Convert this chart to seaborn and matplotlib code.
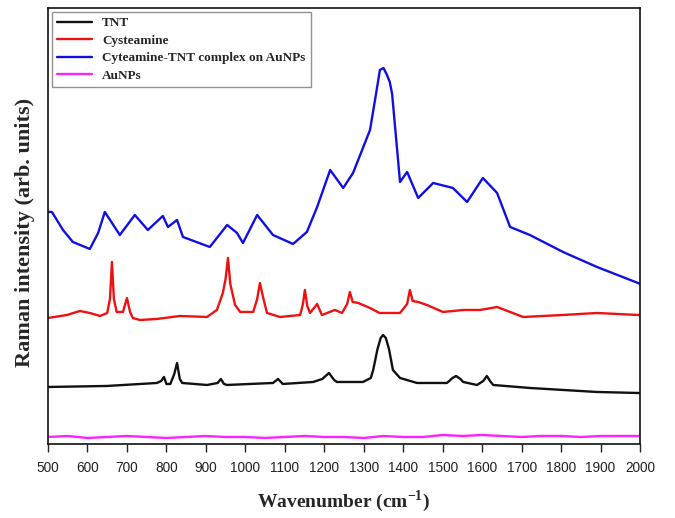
import matplotlib
matplotlib.use("Agg")
import matplotlib.pyplot as plt
import numpy as np
import pandas as pd
import seaborn as sns

# values (arbitrary intensity units)
tnt_wn = [500, 649, 776, 787, 794, 800, 810, 820, 827, 834, 840, 903, 930, 938, 946, 954,
          1070, 1083, 1095, 1172, 1195, 1212, 1225, 1232, 1248, 1298, 1318, 1324, 1335, 1343,
          1349, 1356, 1364, 1374, 1392, 1435, 1511, 1525, 1534, 1545, 1552, 1587, 1603, 1612,
          1620, 1628, 1721, 1891, 1995, 2000]
tnt_int = [57, 58, 61, 63, 67, 60, 60, 70, 81, 65, 61, 59, 61, 65, 60, 59,
           61, 65, 60, 62, 65, 71, 64, 62, 62, 62, 66, 74, 95, 106,
           109, 106, 95, 74, 66, 61, 61, 66, 68, 65, 62, 59, 63, 68,
           63, 59, 56, 52, 51, 51]

cys_wn = [500, 548, 581, 606, 632, 650, 657, 662, 667, 674, 690, 700, 708, 715, 733, 776,
          834, 903, 928, 943, 950, 956, 962, 974, 987, 1020, 1030, 1037, 1046, 1055, 1088,
          1139, 1146, 1151, 1157, 1164, 1182, 1194, 1227, 1245, 1258, 1265, 1272, 1286, 1316,
          1340, 1392, 1410, 1417, 1424, 1438, 1460, 1501, 1552, 1595, 1638, 1671, 1704, 1805,
          1891, 1995, 2000]
cys_int = [126, 129, 133, 131, 128, 131, 145, 182, 145, 132, 132, 146, 132, 126, 124, 125,
           128, 127, 134, 151, 165, 186, 160, 139, 132, 132, 145, 161, 145, 131, 127,
           129, 140, 154, 138, 131, 140, 129, 134, 131, 140, 152, 142, 141, 136,
           131, 131, 140, 154, 143, 142, 139, 132, 134, 134, 137, 132, 127, 129,
           131, 129, 129]

cpx_wn = [500, 510, 538, 563, 606, 627, 644, 682, 720, 753, 791, 804, 827, 842, 910, 954,
          979, 994, 1030, 1070, 1121, 1156, 1182, 1215, 1248, 1273, 1316, 1332, 1341, 1350,
          1359, 1366, 1372, 1392, 1410, 1438, 1476, 1526, 1562, 1602, 1638, 1671, 1721, 1805,
          1891, 1995, 2000]
cpx_int = [232, 232, 214, 202, 195, 211, 232, 209, 229, 214, 228, 217, 224, 207, 197, 219,
           211, 201, 229, 209, 200, 212, 237, 274, 256, 271, 314, 352, 374, 376,
           369, 362, 350, 262, 272, 246, 261, 256, 242, 266, 251, 217, 209, 192,
           177, 161, 160]

au_wn = [500, 550, 600, 650, 700, 750, 800, 850, 900, 950, 1000, 1050, 1100, 1150, 1200,
         1250, 1300, 1350, 1400, 1450, 1500, 1550, 1600, 1650, 1700, 1750, 1800, 1850, 1900,
         1950, 2000]
au_int = [7, 8, 6, 7, 8, 7, 6, 7, 8, 7, 7, 6, 7, 8, 7,
          7, 6, 8, 7, 7, 9, 8, 9, 8, 7, 8, 8, 7, 8,
          8, 8]

labels = ["TNT", "Cysteamine", "Cyteamine-TNT complex on AuNPs", "AuNPs"]
colors = ["#111111", "#ee1111", "#1010e0", "#ff22ff"]

frames = []
for name, wn, inten in zip(labels, [tnt_wn, cys_wn, cpx_wn, au_wn],
                           [tnt_int, cys_int, cpx_int, au_int]):
    frames.append(pd.DataFrame({"wavenumber": wn, "intensity": inten, "sample": name}))
df = pd.concat(frames, ignore_index=True)

sns.set_style("ticks")
plt.rcParams["font.family"] = ["Liberation Serif", "DejaVu Serif"]

fig = plt.figure(figsize=(6.75, 5.18), dpi=100)
ax = fig.add_axes([0.0711, 0.1429, 0.8770, 0.8417])

sns.lineplot(data=df, x="wavenumber", y="intensity", hue="sample", hue_order=labels,
             palette=colors, linewidth=1.7, sort=False, estimator=None, ax=ax)

ax.set_xlim(500, 2000)
ax.set_ylim(0, 436)
ax.set_xticks(np.arange(500, 2001, 100))
ax.set_yticks([])
for lab in ax.get_xticklabels():
    lab.set_fontfamily("Liberation Sans")
    lab.set_fontsize(9.8)
ax.tick_params(axis="x", direction="out", length=6, width=1, pad=6, colors="#222222")
for sp in ax.spines.values():
    sp.set_visible(True)
    sp.set_linewidth(1.2)
    sp.set_color("#111111")

ax.set_xlabel("Wavenumber (cm$^{\\mathregular{-1}}$)", fontsize=14, fontweight="bold", labelpad=10)
ax.set_ylabel("Raman intensity (arb. units)", fontsize=16, fontweight="bold")
ax.yaxis.set_label_coords(-0.022, 0.486)

leg = ax.legend(loc="upper left", frameon=True, fancybox=False, handlelength=2.6,
                borderaxespad=0.3, prop={"family": "Liberation Serif", "weight": "bold", "size": 9.5},
                labelspacing=0.4, edgecolor="#777777")
leg.get_frame().set_linewidth(1.0)

fig.savefig("out.png", dpi=100)
